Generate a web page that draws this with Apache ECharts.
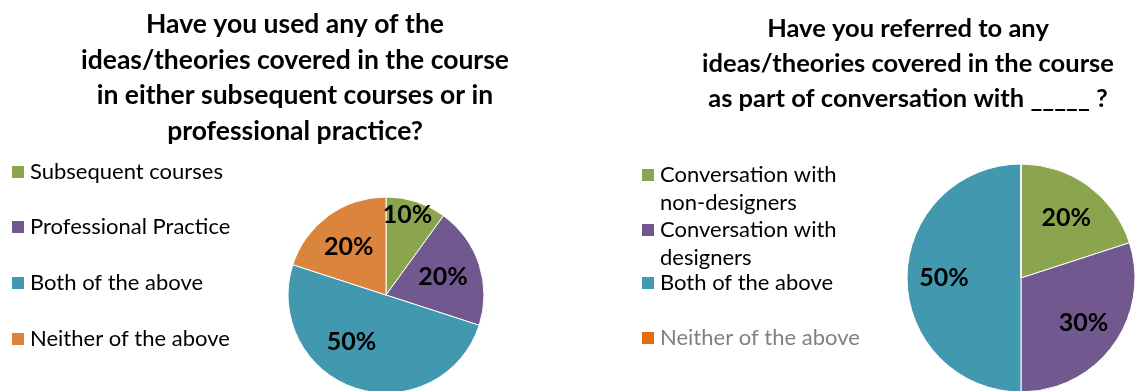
<!DOCTYPE html>
<html><head><meta charset="utf-8">
<script src="https://cdn.jsdelivr.net/npm/echarts@6/dist/echarts.min.js"></script>
<style>html,body{margin:0;padding:0;background:#fff}#c{width:1146px;height:391px}</style>
</head><body><div id="c"></div>
<script>
const leftTitle = 'Have you used any of the\nideas/theories covered in the course\nin either subsequent courses or in\nprofessional practice?';
const rightTitle = 'Have you referred to any\nideas/theories covered in the course\nas part of conversation with _____ ?';
const leftCategories = ['Subsequent courses', 'Professional Practice', 'Both of the above', 'Neither of the above'];
const leftValues = [10, 20, 50, 20];
const rightCategories = ['Conversation with\nnon-designers', 'Conversation with\ndesigners', 'Both of the above', 'Neither of the above'];
const rightValues = [20, 30, 50, 0];
const leftColors = ['#8BA54E', '#71588F', '#4298AF', '#DB843D'];
const rightColors = ['#8BA54E', '#71588F', '#4298AF', '#E46C0A'];
// label nudges (style only, mimic Excel best-fit placement)
const leftLabelNudge = [[3, -23], [0, 0], [-16, -10], [-2, 0]];
const rightLabelNudge = [[0, 2], [0, 0], [0, 0], [0, 0]];

const FONT = 'Lato';
const chart = echarts.init(document.getElementById('c'));

function pieSeries(cats, vals, colors, center, radius, labelInner, nudge) {
  const data = cats.map((n, i) => ({name: n, value: vals[i], itemStyle: {color: colors[i]}}));
  return [
    {
      type: 'pie', center: center, radius: radius, startAngle: 90, clockwise: true,
      silent: true, animation: false, stillShowZeroSum: true, avoidLabelOverlap: false,
      itemStyle: {borderColor: '#fff', borderWidth: 1},
      label: {show: false}, labelLine: {show: false},
      data: data
    },
    {
      type: 'pie', center: center, radius: [radius * labelInner, radius], startAngle: 90, clockwise: true,
      silent: true, animation: false, legendHoverLink: false, avoidLabelOverlap: false,
      itemStyle: {color: 'rgba(0,0,0,0)'},
      label: {show: true, position: 'inside', fontFamily: FONT, fontWeight: 'bold', fontSize: 25, color: '#000',
        formatter: p => p.value ? p.value + '%' : ''},
      labelLine: {show: false},
      data: cats.map((n, i) => ({name: n + ' ', value: vals[i], label: {offset: nudge[i]}}))
    }
  ];
}

function legendItem(name, color, top, left, textColor, twoLine) {
  return {
    data: [{name: name, itemStyle: {color: color}, textStyle: {color: textColor}}],
    top: top, left: left, orient: 'vertical', padding: 0,
    itemWidth: 14, itemHeight: 14, itemGap: 0, selectedMode: false,
    icon: 'rect',
    formatter: twoLine ? (n => '\n' + n) : (n => n),
    textStyle: {fontFamily: FONT, fontSize: 22, lineHeight: 28, color: textColor}
  };
}

const legends = [
  legendItem(leftCategories[0], leftColors[0], 158, 10, '#000'),
  legendItem(leftCategories[1], leftColors[1], 213, 10, '#000'),
  legendItem(leftCategories[2], leftColors[2], 269, 10, '#000'),
  legendItem(leftCategories[3], leftColors[3], 325, 10, '#000'),
  legendItem(rightCategories[0], rightColors[0], 133, 640, '#000', true),
  legendItem(rightCategories[1], rightColors[1], 188, 640, '#000', true),
  legendItem(rightCategories[2], rightColors[2], 269, 640, '#000'),
  legendItem(rightCategories[3], rightColors[3], 324, 640, '#808080')
];

chart.setOption({
  animation: false,
  title: [
    {text: leftTitle, left: 290, top: 2, textAlign: 'center',
      textStyle: {fontFamily: FONT, fontWeight: 'bold', fontSize: 26.5, lineHeight: 35.5, color: '#000'}},
    {text: rightTitle, left: 903, top: 6, textAlign: 'center',
      textStyle: {fontFamily: FONT, fontWeight: 'bold', fontSize: 25.5, lineHeight: 35, color: '#000'}}
  ],
  legend: legends,
  series: [
    ...pieSeries(leftCategories, leftValues, leftColors, [386, 295], 98, 0.16, leftLabelNudge),
    ...pieSeries(rightCategories, rightValues, rightColors, [1021, 278], 114, 0.3, rightLabelNudge)
  ]
});
</script></body></html>
